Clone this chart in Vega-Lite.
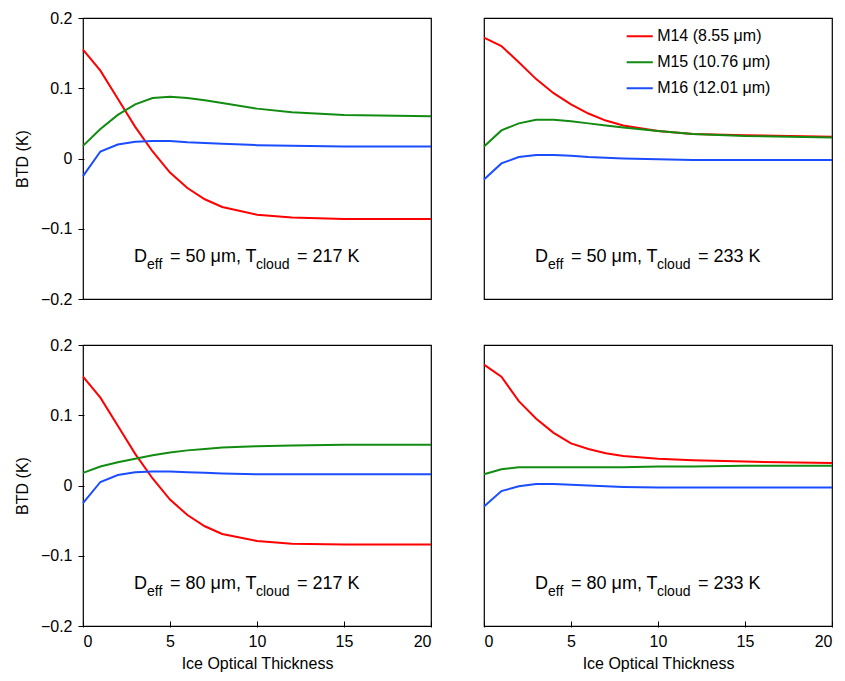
{
  "$schema": "https://vega.github.io/schema/vega-lite/v6.json",
  "padding": {"left": 14, "top": 10, "right": 12, "bottom": 5},
  "data": {
    "values": [
      {"k": "line", "d": 50, "t": 217, "x": 0, "M14": 0.155, "M15": 0.018, "M16": -0.025},
      {"k": "line", "d": 50, "t": 217, "x": 1, "M14": 0.125, "M15": 0.042, "M16": 0.01},
      {"k": "line", "d": 50, "t": 217, "x": 2, "M14": 0.085, "M15": 0.062, "M16": 0.02},
      {"k": "line", "d": 50, "t": 217, "x": 3, "M14": 0.045, "M15": 0.077, "M16": 0.024},
      {"k": "line", "d": 50, "t": 217, "x": 4, "M14": 0.01, "M15": 0.086, "M16": 0.025},
      {"k": "line", "d": 50, "t": 217, "x": 5, "M14": -0.02, "M15": 0.088, "M16": 0.025},
      {"k": "line", "d": 50, "t": 217, "x": 6, "M14": -0.042, "M15": 0.086, "M16": 0.023},
      {"k": "line", "d": 50, "t": 217, "x": 7, "M14": -0.058, "M15": 0.083, "M16": 0.022},
      {"k": "line", "d": 50, "t": 217, "x": 8, "M14": -0.069, "M15": 0.079, "M16": 0.021},
      {"k": "line", "d": 50, "t": 217, "x": 10, "M14": -0.08, "M15": 0.071, "M16": 0.019},
      {"k": "line", "d": 50, "t": 217, "x": 12, "M14": -0.084, "M15": 0.066, "M16": 0.018},
      {"k": "line", "d": 50, "t": 217, "x": 15, "M14": -0.086, "M15": 0.062, "M16": 0.017},
      {"k": "line", "d": 50, "t": 217, "x": 20, "M14": -0.086, "M15": 0.06, "M16": 0.017},
      {"k": "line", "d": 50, "t": 233, "x": 0, "M14": 0.172, "M15": 0.017, "M16": -0.03},
      {"k": "line", "d": 50, "t": 233, "x": 1, "M14": 0.16, "M15": 0.04, "M16": -0.007},
      {"k": "line", "d": 50, "t": 233, "x": 2, "M14": 0.137, "M15": 0.05, "M16": 0.002},
      {"k": "line", "d": 50, "t": 233, "x": 3, "M14": 0.113, "M15": 0.055, "M16": 0.005},
      {"k": "line", "d": 50, "t": 233, "x": 4, "M14": 0.093, "M15": 0.055, "M16": 0.005},
      {"k": "line", "d": 50, "t": 233, "x": 5, "M14": 0.077, "M15": 0.053, "M16": 0.004},
      {"k": "line", "d": 50, "t": 233, "x": 6, "M14": 0.064, "M15": 0.05, "M16": 0.002},
      {"k": "line", "d": 50, "t": 233, "x": 7, "M14": 0.054, "M15": 0.047, "M16": 0.001},
      {"k": "line", "d": 50, "t": 233, "x": 8, "M14": 0.047, "M15": 0.044, "M16": 0.0},
      {"k": "line", "d": 50, "t": 233, "x": 10, "M14": 0.039, "M15": 0.039, "M16": -0.001},
      {"k": "line", "d": 50, "t": 233, "x": 12, "M14": 0.035, "M15": 0.035, "M16": -0.002},
      {"k": "line", "d": 50, "t": 233, "x": 15, "M14": 0.033, "M15": 0.032, "M16": -0.002},
      {"k": "line", "d": 50, "t": 233, "x": 20, "M14": 0.031, "M15": 0.03, "M16": -0.002},
      {"k": "line", "d": 80, "t": 217, "x": 0, "M14": 0.155, "M15": 0.018, "M16": -0.025},
      {"k": "line", "d": 80, "t": 217, "x": 1, "M14": 0.125, "M15": 0.027, "M16": 0.005},
      {"k": "line", "d": 80, "t": 217, "x": 2, "M14": 0.085, "M15": 0.033, "M16": 0.015},
      {"k": "line", "d": 80, "t": 217, "x": 3, "M14": 0.045, "M15": 0.038, "M16": 0.019},
      {"k": "line", "d": 80, "t": 217, "x": 4, "M14": 0.01, "M15": 0.043, "M16": 0.02},
      {"k": "line", "d": 80, "t": 217, "x": 5, "M14": -0.02, "M15": 0.047, "M16": 0.02},
      {"k": "line", "d": 80, "t": 217, "x": 6, "M14": -0.042, "M15": 0.05, "M16": 0.019},
      {"k": "line", "d": 80, "t": 217, "x": 7, "M14": -0.058, "M15": 0.052, "M16": 0.018},
      {"k": "line", "d": 80, "t": 217, "x": 8, "M14": -0.069, "M15": 0.054, "M16": 0.017},
      {"k": "line", "d": 80, "t": 217, "x": 10, "M14": -0.079, "M15": 0.056, "M16": 0.016},
      {"k": "line", "d": 80, "t": 217, "x": 12, "M14": -0.083, "M15": 0.057, "M16": 0.016},
      {"k": "line", "d": 80, "t": 217, "x": 15, "M14": -0.084, "M15": 0.058, "M16": 0.016},
      {"k": "line", "d": 80, "t": 217, "x": 20, "M14": -0.084, "M15": 0.058, "M16": 0.016},
      {"k": "line", "d": 80, "t": 233, "x": 0, "M14": 0.172, "M15": 0.016, "M16": -0.03},
      {"k": "line", "d": 80, "t": 233, "x": 1, "M14": 0.155, "M15": 0.023, "M16": -0.008},
      {"k": "line", "d": 80, "t": 233, "x": 2, "M14": 0.12, "M15": 0.026, "M16": -0.001},
      {"k": "line", "d": 80, "t": 233, "x": 3, "M14": 0.095, "M15": 0.026, "M16": 0.002},
      {"k": "line", "d": 80, "t": 233, "x": 4, "M14": 0.075, "M15": 0.026, "M16": 0.002},
      {"k": "line", "d": 80, "t": 233, "x": 5, "M14": 0.06, "M15": 0.026, "M16": 0.001},
      {"k": "line", "d": 80, "t": 233, "x": 6, "M14": 0.052, "M15": 0.026, "M16": 0.0},
      {"k": "line", "d": 80, "t": 233, "x": 7, "M14": 0.046, "M15": 0.026, "M16": -0.001},
      {"k": "line", "d": 80, "t": 233, "x": 8, "M14": 0.042, "M15": 0.026, "M16": -0.002},
      {"k": "line", "d": 80, "t": 233, "x": 10, "M14": 0.038, "M15": 0.027, "M16": -0.003},
      {"k": "line", "d": 80, "t": 233, "x": 12, "M14": 0.036, "M15": 0.027, "M16": -0.003},
      {"k": "line", "d": 80, "t": 233, "x": 15, "M14": 0.034, "M15": 0.028, "M16": -0.003},
      {"k": "line", "d": 80, "t": 233, "x": 20, "M14": 0.032, "M15": 0.028, "M16": -0.003},
      {"k": "lab", "d": 50, "t": 217, "x": 10, "y": -0.14, "a": "D", "b": "eff", "c": "= 50 μm, T", "e": "cloud", "f": "= 217 K"},
      {"k": "lab", "d": 50, "t": 233, "x": 10, "y": -0.14, "a": "D", "b": "eff", "c": "= 50 μm, T", "e": "cloud", "f": "= 233 K"},
      {"k": "lab", "d": 80, "t": 217, "x": 10, "y": -0.14, "a": "D", "b": "eff", "c": "= 80 μm, T", "e": "cloud", "f": "= 217 K"},
      {"k": "lab", "d": 80, "t": 233, "x": 10, "y": -0.14, "a": "D", "b": "eff", "c": "= 80 μm, T", "e": "cloud", "f": "= 233 K"},
      {"k": "leg", "d": 50, "t": 233, "band": "M14", "x1": 8.2, "x2": 9.7, "x": 9.95, "y": 0.174, "label": "M14 (8.55 μm)"},
      {"k": "leg", "d": 50, "t": 233, "band": "M15", "x1": 8.2, "x2": 9.7, "x": 9.95, "y": 0.137, "label": "M15 (10.76 μm)"},
      {"k": "leg", "d": 50, "t": 233, "band": "M16", "x1": 8.2, "x2": 9.7, "x": 9.95, "y": 0.1, "label": "M16 (12.01 μm)"}
    ]
  },
  "facet": {
    "row": {"field": "d", "type": "ordinal", "header": {"labels": false, "title": null}},
    "column": {"field": "t", "type": "ordinal", "header": {"labels": false, "title": null}}
  },
  "spacing": {"row": 44, "column": 43},
  "spec": {
    "width": 348,
    "height": 281,
    "layer": [
      {
        "transform": [
          {"filter": "datum.k === 'line'"},
          {"fold": ["M14", "M15", "M16"], "as": ["band", "v"]}
        ],
        "mark": {"type": "line", "strokeWidth": 2},
        "encoding": {
          "x": {
            "field": "x", "type": "quantitative",
            "scale": {"domain": [0, 20]},
            "axis": {"values": [0, 5, 10, 15, 20], "title": "Ice Optical Thickness"}
          },
          "y": {
            "field": "v", "type": "quantitative",
            "scale": {"domain": [-0.2, 0.2]},
            "axis": {
              "values": [-0.2, -0.1, 0, 0.1, 0.2],
              "title": "BTD (K)",
              "labelExpr": "datum.value == 0 ? '0' : replace(format(datum.value, '.1f'), '-', '−')"
            }
          },
          "color": {
            "field": "band", "type": "nominal",
            "scale": {"domain": ["M14", "M15", "M16"], "range": ["#ff0000", "#118c11", "#1a4dff"]},
            "legend": null
          }
        }
      },
      {
        "transform": [{"filter": "datum.k === 'leg'"}],
        "mark": {"type": "rule", "strokeWidth": 2},
        "encoding": {
          "x": {"field": "x1", "type": "quantitative"},
          "x2": {"field": "x2"},
          "y": {"field": "y", "type": "quantitative"},
          "color": {"field": "band", "type": "nominal", "legend": null}
        }
      },
      {
        "transform": [{"filter": "datum.k === 'leg'"}],
        "mark": {"type": "text", "fontSize": 16, "align": "left"},
        "encoding": {"x": {"field": "x", "type": "quantitative"}, "y": {"field": "y", "type": "quantitative"}, "text": {"field": "label"}}
      },
      {
        "transform": [{"filter": "datum.k === 'lab'"}],
        "mark": {"type": "text", "fontSize": 18, "align": "left", "dx": -123},
        "encoding": {"x": {"field": "x", "type": "quantitative"}, "y": {"field": "y", "type": "quantitative"}, "text": {"field": "a"}}
      },
      {
        "transform": [{"filter": "datum.k === 'lab'"}],
        "mark": {"type": "text", "fontSize": 14, "align": "left", "dx": -110, "dy": 8},
        "encoding": {"x": {"field": "x", "type": "quantitative"}, "y": {"field": "y", "type": "quantitative"}, "text": {"field": "b"}}
      },
      {
        "transform": [{"filter": "datum.k === 'lab'"}],
        "mark": {"type": "text", "fontSize": 18, "align": "left", "dx": -87},
        "encoding": {"x": {"field": "x", "type": "quantitative"}, "y": {"field": "y", "type": "quantitative"}, "text": {"field": "c"}}
      },
      {
        "transform": [{"filter": "datum.k === 'lab'"}],
        "mark": {"type": "text", "fontSize": 14, "align": "left", "dx": -1, "dy": 8},
        "encoding": {"x": {"field": "x", "type": "quantitative"}, "y": {"field": "y", "type": "quantitative"}, "text": {"field": "e"}}
      },
      {
        "transform": [{"filter": "datum.k === 'lab'"}],
        "mark": {"type": "text", "fontSize": 18, "align": "left", "dx": 40},
        "encoding": {"x": {"field": "x", "type": "quantitative"}, "y": {"field": "y", "type": "quantitative"}, "text": {"field": "f"}}
      }
    ]
  },
  "config": {
    "font": "Liberation Sans",
    "view": {"stroke": "black", "strokeWidth": 1.2},
    "axis": {
      "grid": false,
      "domain": false,
      "tickSize": -6,
      "tickColor": "black",
      "labelFontSize": 16,
      "labelColor": "black",
      "titleFontSize": 16,
      "titleFontWeight": "normal",
      "titleColor": "black",
      "labelPadding": 12
    },
    "axisY": {"titlePadding": 10},
    "axisX": {"titlePadding": 6}
  }
}
